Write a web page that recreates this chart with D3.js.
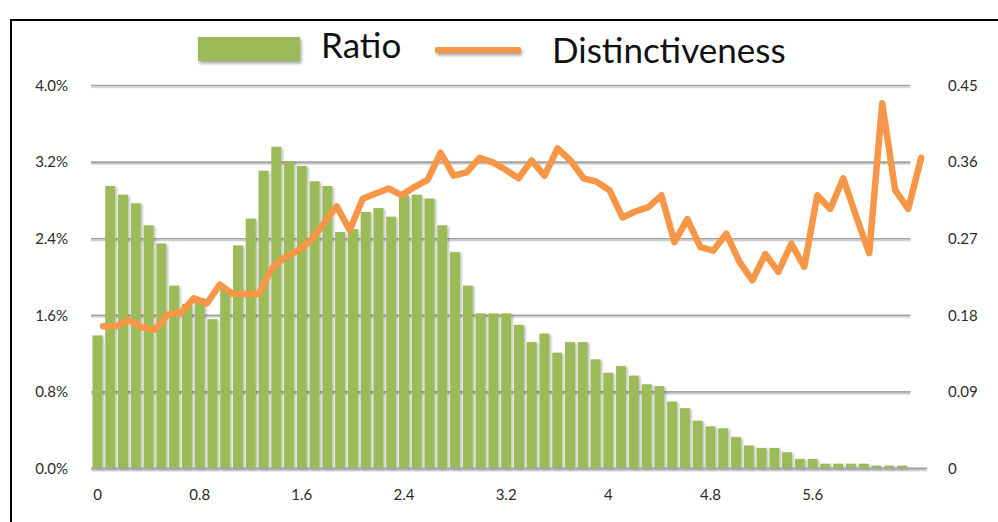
<!DOCTYPE html>
<html>
<head>
<meta charset="utf-8">
<script src="https://cdn.jsdelivr.net/npm/d3@7"></script>
<style>
  html, body { margin: 0; padding: 0; background: #ffffff; }
  svg { display: block; }
</style>
</head>
<body>
<svg id="chart" width="998" height="522"></svg>
<script>
// Bins of the distinctiveness score (category axis)
const bins = [
  "0.0","0.1","0.2","0.3","0.4","0.5","0.6","0.7","0.8","0.9",
  "1.0","1.1","1.2","1.3","1.4","1.5","1.6","1.7","1.8","1.9",
  "2.0","2.1","2.2","2.3","2.4","2.5","2.6","2.7","2.8","2.9",
  "3.0","3.1","3.2","3.3","3.4","3.5","3.6","3.7","3.8","3.9",
  "4.0","4.1","4.2","4.3","4.4","4.5","4.6","4.7","4.8","4.9",
  "5.0","5.1","5.2","5.3","5.4","5.5","5.6","5.7","5.8","5.9",
  "6.0","6.1","6.2","6.3"
];

// Share of items in each bin, in percent (left axis)
const ratio = [
  1.39, 2.95, 2.86, 2.77, 2.54, 2.35, 1.91, 1.72, 1.78, 1.56,
  1.88, 2.33, 2.61, 3.11, 3.36, 3.21, 3.16, 3.00, 2.95, 2.47,
  2.50, 2.68, 2.72, 2.63, 2.85, 2.86, 2.82, 2.54, 2.26, 1.91,
  1.62, 1.62, 1.62, 1.50, 1.32, 1.41, 1.21, 1.32, 1.32, 1.14,
  1.00, 1.07, 0.97, 0.88, 0.86, 0.70, 0.63, 0.50, 0.44, 0.42,
  0.33, 0.24, 0.215, 0.215, 0.17, 0.10, 0.10, 0.05, 0.05, 0.05,
  0.05, 0.03, 0.03, 0.03
];

// Mean distinctiveness in each bin (right axis)
const distinctiveness = [
  0.167, 0.167, 0.174, 0.166, 0.163, 0.181, 0.183, 0.200, 0.194, 0.216,
  0.205, 0.205, 0.205, 0.235, 0.248, 0.256, 0.268, 0.288, 0.308, 0.280,
  0.317, 0.323, 0.329, 0.321, 0.331, 0.339, 0.371, 0.344, 0.348, 0.365,
  0.360, 0.351, 0.341, 0.362, 0.344, 0.376, 0.362, 0.341, 0.337, 0.327,
  0.295, 0.302, 0.307, 0.321, 0.266, 0.293, 0.260, 0.256, 0.276, 0.243,
  0.221, 0.252, 0.231, 0.264, 0.237, 0.321, 0.305, 0.341, 0.296, 0.253,
  0.429, 0.327, 0.305, 0.365
];

const xTickBins   = ["0.0","0.8","1.6","2.4","3.2","4.0","4.8","5.6"];
const xTickLabels = ["0","0.8","1.6","2.4","3.2","4","4.8","5.6"];
const leftTicks       = [0, 0.8, 1.6, 2.4, 3.2, 4.0];
const leftTickLabels  = ["0.0%","0.8%","1.6%","2.4%","3.2%","4.0%"];
const rightTicks      = [0, 0.09, 0.18, 0.27, 0.36, 0.45];
const rightTickLabels = ["0","0.09","0.18","0.27","0.36","0.45"];
const seriesNames = ["Ratio", "Distinctiveness"];

const GREEN = "#9bbb59";
const ORANGE = "#f79646";
const GRID = "#a3a3a3";
const TEXT = "#2b2b2b";
const FONT = "Lato, 'Open Sans', sans-serif";

const svg = d3.select("#chart");

// Soft drop shadows used by bars, grid lines and legend keys
const defs = svg.append("defs");
function shadow(id, dx, dy, sd, op) {
  const f = defs.append("filter").attr("id", id)
    .attr("filterUnits", "userSpaceOnUse")
    .attr("x", 0).attr("y", 0).attr("width", 998).attr("height", 522);
  f.append("feDropShadow").attr("dx", dx).attr("dy", dy)
    .attr("stdDeviation", sd).attr("flood-color", "#000").attr("flood-opacity", op);
}
shadow("barShadow", 1.6, 1.2, 1.0, 0.28);
shadow("gridShadow", 0, 1.5, 0.7, 0.25);
shadow("keyShadow", 1.5, 2.5, 1.5, 0.35);

// Scales
const plotLeft = 91.1, plotRight = 908.4;
const yTop = 85.5, yBottom = 468.5;

const x = d3.scaleBand().domain(bins).range([plotLeft, plotRight])
  .paddingInner(0.22).paddingOuter(0.11);
const xLine = d3.scalePoint().domain(bins)
  .range([plotLeft + x.step() * 0.93, plotRight + x.step()]);
const yLeft = d3.scaleLinear().domain([0, 4.0]).range([yBottom, yTop]);
const yRight = d3.scaleLinear().domain([0, 0.45]).range([yBottom, yTop]);

// Chart frame
svg.append("path")
  .attr("d", "M11,522 V20 H998")
  .attr("fill", "none").attr("stroke", "#000").attr("stroke-width", 2);

// Horizontal grid lines
svg.append("g").attr("filter", "url(#gridShadow)")
  .selectAll("line").data(leftTicks.filter(t => t > 0)).join("line")
  .attr("x1", plotLeft).attr("x2", plotRight + 2)
  .attr("y1", d => yLeft(d)).attr("y2", d => yLeft(d))
  .attr("stroke", GRID).attr("stroke-width", 1.6);

// Bars
svg.append("g").attr("filter", "url(#barShadow)")
  .selectAll("rect").data(bins).join("rect")
  .attr("x", d => x(d))
  .attr("width", x.bandwidth())
  .attr("y", (d, i) => yLeft(ratio[i]))
  .attr("height", (d, i) => yLeft(0) - yLeft(ratio[i]))
  .attr("fill", GREEN);

// Category baseline
svg.append("line").attr("filter", "url(#gridShadow)")
  .attr("x1", plotLeft).attr("x2", xLine.range()[1] + 6)
  .attr("y1", yBottom).attr("y2", yBottom)
  .attr("stroke", GRID).attr("stroke-width", 2);

// Distinctiveness line
const line = d3.line()
  .x((d, i) => xLine(bins[i]))
  .y(d => yRight(d));
svg.append("path").datum(distinctiveness)
  .attr("d", line)
  .attr("fill", "none").attr("stroke", ORANGE)
  .attr("stroke-width", 6.5)
  .attr("stroke-linejoin", "round").attr("stroke-linecap", "round");

// Axes
const axisFont = 15;
const xAxis = d3.axisBottom(x).tickValues(xTickBins)
  .tickSize(0).tickPadding(21)
  .tickFormat(d => xTickLabels[xTickBins.indexOf(d)]);
const gx = svg.append("g").attr("transform", `translate(0,${yBottom})`).call(xAxis);

const leftAxis = d3.axisLeft(yLeft).tickValues(leftTicks)
  .tickSize(0).tickPadding(23)
  .tickFormat(d => leftTickLabels[leftTicks.indexOf(d)]);
const gl = svg.append("g").attr("transform", `translate(${plotLeft},0)`).call(leftAxis);

const rightAxis = d3.axisRight(yRight).tickValues(rightTicks)
  .tickSize(0).tickPadding(20)
  .tickFormat(d => rightTickLabels[rightTicks.indexOf(d)]);
const gr = svg.append("g").attr("transform", `translate(928,0)`).call(rightAxis);

[gx, gl, gr].forEach(g => {
  g.select(".domain").remove();
  g.selectAll("text").attr("fill", TEXT)
    .style("font-family", FONT).style("font-size", axisFont + "px");
});

// Legend
const legend = svg.append("g");
legend.append("rect")
  .attr("x", 198).attr("y", 37).attr("width", 102).attr("height", 24)
  .attr("fill", GREEN).attr("filter", "url(#keyShadow)");
legend.append("text")
  .attr("x", 321).attr("y", 58)
  .attr("fill", "#111").style("font-family", FONT).style("font-size", "35px")
  .text(seriesNames[0]);
legend.append("rect")
  .attr("x", 435).attr("y", 47).attr("width", 86).attr("height", 6)
  .attr("rx", 1.5)
  .attr("fill", ORANGE).attr("filter", "url(#keyShadow)");
legend.append("text")
  .attr("x", 552).attr("y", 63)
  .attr("fill", "#111").style("font-family", FONT).style("font-size", "35px")
  .text(seriesNames[1]);
</script>
</body>
</html>
